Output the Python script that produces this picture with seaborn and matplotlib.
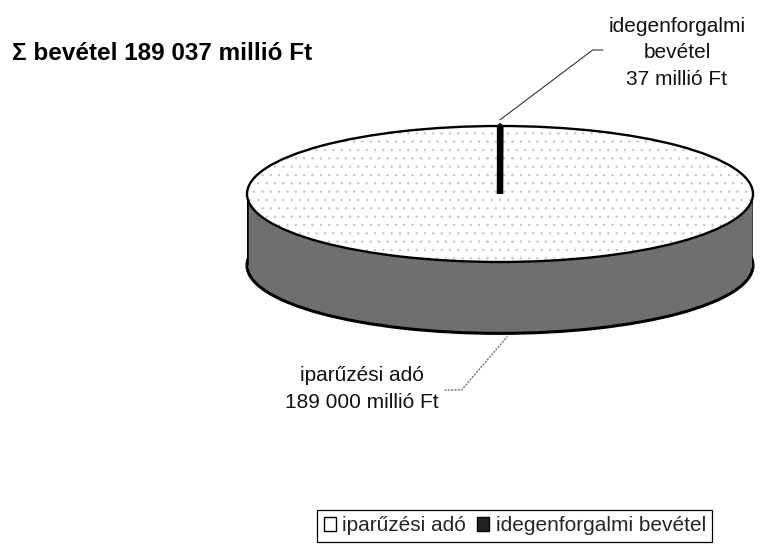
import matplotlib
matplotlib.use("Agg")
import matplotlib.pyplot as plt
import seaborn as sns
from matplotlib.patches import Patch

sns.set_theme(style="white")
plt.rcParams['font.family'] = ['Liberation Sans', 'DejaVu Sans']
plt.rcParams['hatch.linewidth'] = 0.5

# ---- data ----
categories = ['iparűzési adó', 'idegenforgalmi bevétel']
values = [189000, 37]
label_names = ['iparűzési adó', 'idegenforgalmi\nbevétel']
unit = 'millió Ft'

def fmt(v):
    return f"{v:,}".replace(',', ' ')

total = sum(values)

W, H = 766, 546
fig = plt.figure(figsize=(W / 100, H / 100), dpi=100)
fig.patch.set_facecolor('white')

# pie axes: unit circle stretched into an ellipse (pseudo-3D)
ax = fig.add_axes([247 / W, 0.3707, 506 / W, 0.411])
depth = 1.05
start = 90
side_col = '#6f6f6f'

# bottom disc (rim of the side)
ax.pie(values, center=(0, -depth), radius=1, startangle=start, counterclock=True,
       colors=[side_col, side_col],
       wedgeprops=dict(edgecolor='black', linewidth=2.2, joinstyle='bevel'))
# side band
ax.bar(0, depth + 0.04, width=1.996, bottom=-depth - 0.04, color=side_col,
       edgecolor='none', zorder=2)
ax.vlines([-1, 1], -depth, 0, colors='black', linewidth=1.8, zorder=2)
# top face (dotted fill)
top, _ = ax.pie(values, center=(0, 0), radius=1, startangle=start, counterclock=True,
                colors=['white', 'black'],
                wedgeprops=dict(edgecolor='#c4c4c4', linewidth=0, hatch='..'))
for w in top:
    w.set_zorder(3)
# top outline
outl, _ = ax.pie(values, center=(0, 0), radius=1, startangle=start, counterclock=True,
                 colors=['none', 'black'],
                 wedgeprops=dict(edgecolor='black', linewidth=1.7, fill=False,
                                 joinstyle='bevel'))
for w in outl:
    w.set_zorder(4)
outl[1].set_linewidth(4.5)
outl[1].set_fill(True)
outl[1].set_facecolor('black')

ax.set_aspect('auto')
ax.set_xlim(-1, 1)
ax.set_ylim(-2.2, 1.1)
ax.axis('off')

# ---- title ----
fig.text(12 / W, 1 - 53 / H, f"Σ bevétel {fmt(total)} {unit}", fontsize=17.5,
         fontweight='bold', ha='left', va='center', color='black')

# ---- labels with leader lines ----
fig.text(677 / W, 1 - 53 / H, f"{label_names[1]}\n{fmt(values[1])} {unit}",
         fontsize=15, ha='center', va='center', linespacing=1.5, color='#111111')
fig.text(362 / W, 1 - 389 / H, f"{label_names[0]}\n{fmt(values[0])} {unit}",
         fontsize=15, ha='center', va='center', linespacing=1.5, color='#111111')

fig.add_artist(plt.Annotation('', xy=(0.0, 1.09), xycoords=ax.transData,
               xytext=(603, H - 50), textcoords='figure pixels',
               arrowprops=dict(arrowstyle='-', color='#333333', lw=0.8,
                               connectionstyle='angle,angleA=0,angleB=37,rad=0',
                               shrinkA=0, shrinkB=0)))
fig.add_artist(plt.Annotation('', xy=(0.028, -depth - 1.05), xycoords=ax.transData,
               xytext=(445, H - 390), textcoords='figure pixels',
               arrowprops=dict(arrowstyle='-', color='#666666', lw=0.9, linestyle=':',
                               connectionstyle='angle,angleA=0,angleB=49.5,rad=0',
                               shrinkA=0, shrinkB=0)))

# ---- legend ----
handles = [Patch(facecolor='white', edgecolor='black', linewidth=1),
           Patch(facecolor='#222222', edgecolor='black', linewidth=1)]
leg = fig.legend(handles, categories, loc='upper right',
                 bbox_to_anchor=(712 / W, 1 - 510 / H), ncol=2, fontsize=15,
                 frameon=True, fancybox=False, framealpha=1, edgecolor='black',
                 handlelength=0.6, handleheight=0.6, handletextpad=0.3,
                 columnspacing=0.5, borderpad=0.3, borderaxespad=0)
leg.get_frame().set_linewidth(0.9)

fig.savefig('out.png', dpi=100, facecolor='white')
